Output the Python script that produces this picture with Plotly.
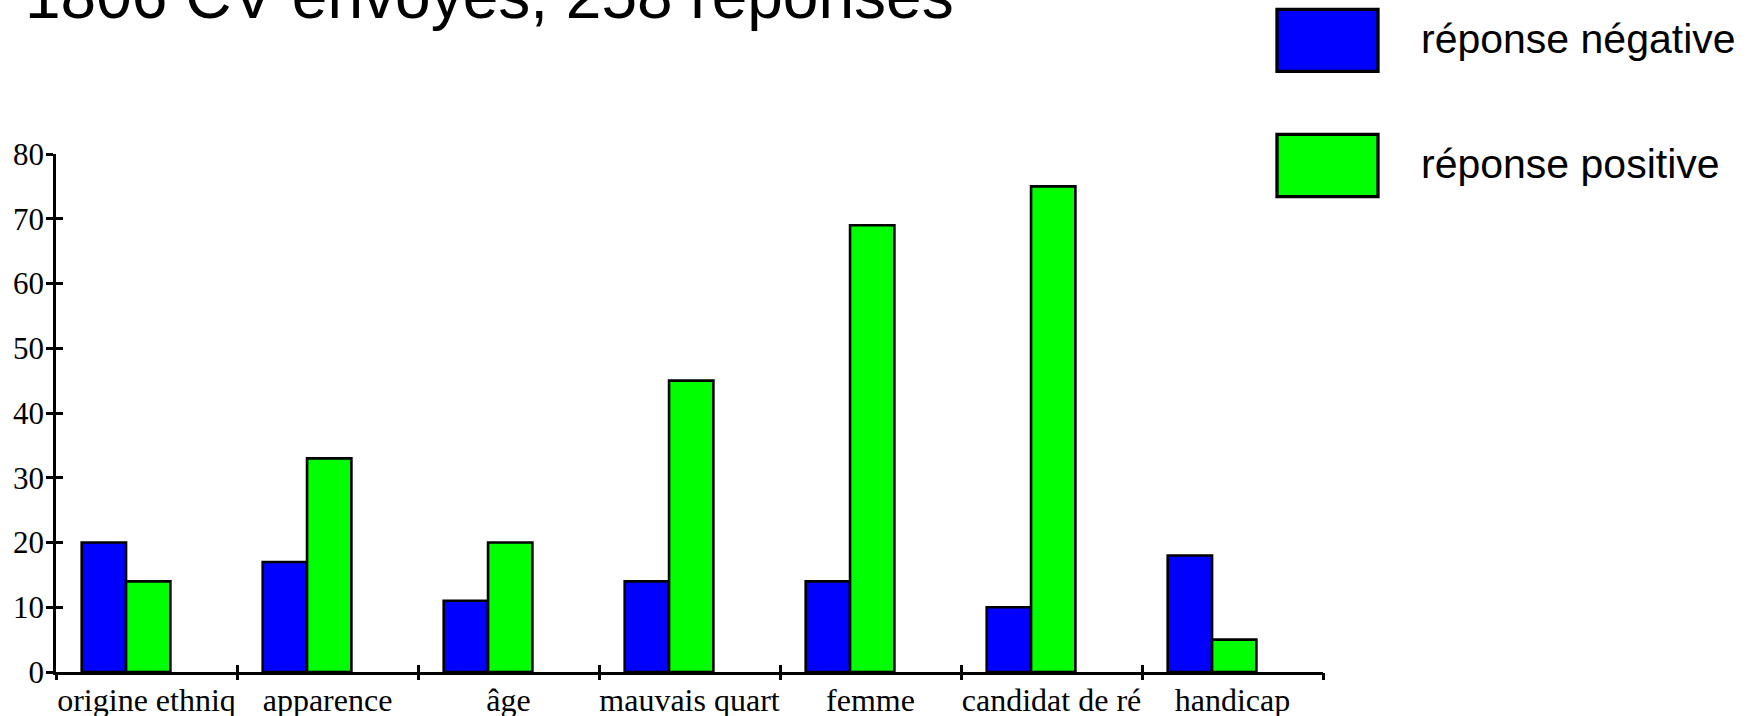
import plotly.graph_objects as go

# Survey data: CVs sent, responses by discrimination criterion
categories = ["origine ethniq", "apparence", "âge", "mauvais quart",
              "femme", "candidat de ré", "handicap"]
negative = [20, 17, 11, 14, 14, 10, 18]
positive = [14, 33, 20, 45, 69, 75, 5]
series_names = ["réponse négative", "réponse positive"]
y_ticks = [0, 10, 20, 30, 40, 50, 60, 70, 80]
title_text = "1806 CV envoyés, 258 réponses"

W, H = 1748, 716
ML, MR, MT, MB = 56, 425, 154, 44
PW, PH = W - ML - MR, H - MT - MB


def px_x(px):
    return (px - ML) / PW


def px_y(py):
    return (H - MB - py) / PH


BLUE, GREEN = "#0000ff", "#00ff00"
n = len(categories)
centers = list(range(n))
bounds = [i - 0.5 for i in range(n + 1)]
bar_w = 0.245

fig = go.Figure()
fig.add_trace(go.Bar(
    x=centers, y=negative, name=series_names[0], width=bar_w, offset=-0.358,
    marker=dict(color=BLUE, line=dict(color="black", width=2.6)),
    showlegend=False))
fig.add_trace(go.Bar(
    x=centers, y=positive, name=series_names[1], width=bar_w, offset=-0.113,
    marker=dict(color=GREEN, line=dict(color="black", width=2.6)),
    showlegend=False))

# empty helper traces so the tick-only overlay axes are drawn
for xa, ya in (("x2", "y"), ("x3", "y"), ("x", "y2")):
    fig.add_trace(go.Scatter(x=[], y=[], xaxis=xa, yaxis=ya,
                             showlegend=False, hoverinfo="skip"))

serif = "Liberation Serif, Times New Roman, serif"
sans = "Liberation Sans, Arial, sans-serif"
xr = [bounds[0], bounds[-1]]
common = dict(showgrid=False, zeroline=False, automargin=False)

fig.update_layout(
    width=W, height=H,
    margin=dict(l=ML, r=MR, t=MT, b=MB, pad=0, autoexpand=False),
    paper_bgcolor="white", plot_bgcolor="white",
    barmode="overlay",
    xaxis=dict(range=xr, tickvals=centers, ticktext=categories,
               ticks="", showline=True, linecolor="black", linewidth=2.6,
               tickfont=dict(family=serif, size=32, color="black"),
               ticklabelstandoff=-2, **common),
    xaxis2=dict(range=xr, overlaying="x", anchor="y", tickvals=bounds,
                ticks="outside", ticklen=7, tickwidth=2.6, tickcolor="black",
                showticklabels=False, showline=False, **common),
    xaxis3=dict(range=xr, overlaying="x", anchor="y", tickvals=bounds,
                ticks="inside", ticklen=7, tickwidth=2.6, tickcolor="black",
                showticklabels=False, showline=False, **common),
    yaxis=dict(range=[0, 80], tickvals=y_ticks, ticks="outside", ticklen=7,
               tickwidth=2.6, tickcolor="black", showline=True,
               linecolor="black", linewidth=2.6, ticklabelstandoff=-4,
               tickfont=dict(family=serif, size=31, color="black"), **common),
    yaxis2=dict(range=[0, 80], overlaying="y", anchor="x", side="left",
                tickvals=y_ticks, ticks="inside", ticklen=7, tickwidth=2.6,
                tickcolor="black", showticklabels=False, showline=False,
                **common),
)

# title, partly above the page edge
fig.add_annotation(text=title_text, xref="paper", yref="paper",
                   x=px_x(23), y=px_y(34), xanchor="left", yanchor="bottom",
                   showarrow=False,
                   font=dict(family=sans, size=64, color="black"))

# legend: large swatches with labels
legend_rows = [(BLUE, 9.3, 71.3, 38.8), (GREEN, 134.3, 196.7, 164.4)]
for (color, top, bottom, text_mid), name in zip(legend_rows, series_names):
    fig.add_shape(type="rect", xref="paper", yref="paper",
                  x0=px_x(1277), x1=px_x(1378), y0=px_y(bottom), y1=px_y(top),
                  fillcolor=color, line=dict(color="black", width=3.3))
    fig.add_annotation(text=name, xref="paper", yref="paper",
                       x=px_x(1419), y=px_y(text_mid), xanchor="left",
                       yanchor="middle", showarrow=False,
                       font=dict(family=sans, size=41, color="black"))

fig.write_html("out.html")
